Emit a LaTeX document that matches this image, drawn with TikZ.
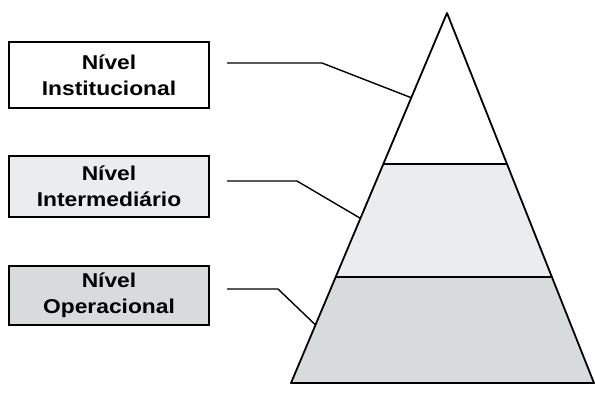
\documentclass[tikz,border=0pt]{standalone}
\usepackage{fontspec}
\setmainfont{Liberation Sans}[FakeStretch=1.14]
\usetikzlibrary{calc}
\definecolor{midgray}{HTML}{EBECEE}
\definecolor{lowgray}{HTML}{D8DBDC}
\tikzset{
  level/.style={draw, line width=1.6pt, minimum width=200, inner sep=0pt,
    align=center, font=\fontsize{20}{26}\selectfont\bfseries},
  link/.style={line width=1.4pt, line join=round},
  edge/.style={line width=1.8pt, line join=round}
}
\begin{document}
\begin{tikzpicture}[x=1pt,y=-1pt]
  \useasboundingbox (0,0) rectangle (595,394);
  \coordinate (top) at (447,13);
  \coordinate (bl) at (291,383);
  \coordinate (br) at (594,383);
  \coordinate (l1) at ($(top)!0.408!(bl)$);
  \coordinate (r1) at ($(top)!0.408!(br)$);
  \coordinate (l2) at ($(top)!0.7135!(bl)$);
  \coordinate (r2) at ($(top)!0.7135!(br)$);
  \fill[lowgray] (l2) -- (bl) -- (br) -- (r2) -- cycle;
  \fill[midgray] (l1) -- (l2) -- (r2) -- (r1) -- cycle;
  \draw[edge] (bl) -- (top) -- (br) -- cycle;
  \draw[edge] (l1) -- (r1);
  \draw[edge] (l2) -- (r2);

  \node[level, fill=white, minimum height=66] (inst) at (109,75) {Nível\\Institucional};
  \node[level, fill=midgray, minimum height=61] (inter) at (109,186.5) {Nível\\Intermediário};
  \node[level, fill=lowgray, minimum height=59] (oper) at (109,295.5) {Nível\\Operacional};

  \coordinate (inst-out) at (227,63);
  \coordinate (inter-out) at (227,181);
  \coordinate (oper-out) at (227,289);
  \coordinate (inst-in) at ($(top)!0.229!(bl)$);
  \coordinate (inter-in) at ($(top)!0.555!(bl)$);
  \coordinate (oper-in) at ($(top)!0.843!(bl)$);
  \draw[link] (inst-out) -- ++(95,0) -- (inst-in);
  \draw[link] (inter-out) -- ++(70,0) -- (inter-in);
  \draw[link] (oper-out) -- ++(51,0) -- (oper-in);
\end{tikzpicture}
\end{document}
